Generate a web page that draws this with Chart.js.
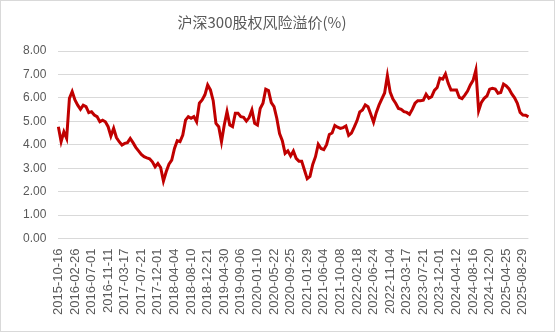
<!DOCTYPE html>
<html>
<head>
<meta charset="utf-8">
<script src="https://cdn.jsdelivr.net/npm/chart.js@4/dist/chart.umd.min.js"></script>
<style>
  body { margin: 0; background: #fff; }
  #box {
    position: relative;
    width: 553px;
    height: 330px;
    border: 1px solid #d9d9d9;
  }
  #title {
    position: absolute;
    left: 0;
    top: 11px;
    width: 522px;
    text-align: center;
    font-family: "Noto Sans CJK SC", sans-serif;
    font-size: 15px;
    line-height: 20px;
    color: #595959;
  }
  canvas { display: block; }
</style>
</head>
<body>
<div id="box">
  <div id="title">沪深300股权风险溢价(%)</div>
  <canvas id="erpChart" width="553" height="330"></canvas>
</div>
<script>
// x axis labels shown on the chart
const tickLabels = [
  "2015-10-16", "2016-02-26", "2016-07-01", "2016-11-11", "2017-03-17",
  "2017-07-21", "2017-12-01", "2018-04-04", "2018-08-10", "2018-12-21",
  "2019-04-30", "2019-09-06", "2020-01-10", "2020-05-22", "2020-09-25",
  "2021-01-29", "2021-06-04", "2021-10-08", "2022-02-18", "2022-06-24",
  "2022-11-04", "2023-03-17", "2023-07-21", "2023-12-01", "2024-04-12",
  "2024-08-16", "2024-12-20", "2025-04-25", "2025-08-29"
];

// points between two shown labels
const stepsPerTick = 6;

// equity risk premium (%)
const erpValues = [
  4.77, 4.13, 4.55, 4.27, 5.98, 6.27, 5.91, 5.69, 5.51, 5.69,
  5.63, 5.37, 5.41, 5.27, 5.20, 4.98, 5.05, 4.98, 4.77, 4.37,
  4.70, 4.31, 4.13, 3.99, 4.06, 4.09, 4.27, 4.09, 3.89, 3.74,
  3.59, 3.49, 3.44, 3.40, 3.27, 3.06, 3.20, 3.03, 2.45, 2.85,
  3.17, 3.34, 3.84, 4.17, 4.13, 4.41, 5.05, 5.20, 5.13, 5.20,
  4.98, 5.77, 5.91, 6.13, 6.55, 6.34, 5.88, 4.91, 4.77, 4.13,
  4.84, 5.41, 4.84, 4.77, 5.34, 5.34, 5.20, 5.17, 5.01, 5.16,
  5.48, 4.91, 4.84, 5.55, 5.77, 6.37, 6.31, 5.80, 5.63, 5.13,
  4.48, 4.17, 3.63, 3.74, 3.52, 3.73, 3.42, 3.30, 3.30, 2.92,
  2.55, 2.65, 3.16, 3.49, 4.02, 3.84, 3.79, 4.00, 4.44, 4.50,
  4.82, 4.75, 4.70, 4.73, 4.80, 4.40, 4.50, 4.75, 5.02, 5.40,
  5.48, 5.70, 5.62, 5.30, 4.96, 5.38, 5.70, 5.96, 6.21, 6.95,
  6.25, 5.95, 5.77, 5.55, 5.51, 5.41, 5.38, 5.30, 5.51, 5.77,
  5.88, 5.88, 5.90, 6.15, 5.98, 6.05, 6.32, 6.44, 6.84, 6.80,
  7.02, 6.62, 6.34, 6.34, 6.34, 6.02, 5.97, 6.12, 6.29, 6.55,
  6.75, 7.19, 5.45, 5.81, 5.98, 6.08, 6.37, 6.41, 6.38, 6.20,
  6.23, 6.59, 6.51, 6.38, 6.17, 6.00, 5.77, 5.38, 5.27, 5.26,
  5.19
];

const yMin = 0;
const yMax = 8;

function buildLabels() {
  const labels = [];
  for (let i = 0; i < erpValues.length; i++) {
    const t = i / stepsPerTick;
    labels.push(i % stepsPerTick === 0 && tickLabels[t] ? tickLabels[t] : "");
  }
  return labels;
}

function loadErpChart() {
  const canvas = document.getElementById("erpChart");
  if (!canvas) return;

  new Chart(canvas, {
    type: "line",
    data: {
      labels: buildLabels(),
      datasets: [{
        label: "沪深300股权风险溢价",
        data: erpValues,
        borderColor: "#c00000",
        borderWidth: 3,
        pointRadius: 0,
        fill: false,
        tension: 0
      }]
    },
    options: {
      responsive: false,
      animation: false,
      layout: {
        padding: { left: 10, right: 15, top: 50, bottom: 6 }
      },
      plugins: {
        legend: { display: false },
        title: { display: false },
        tooltip: { enabled: false }
      },
      scales: {
        x: {
          grid: { display: false, drawTicks: false },
          border: { display: false },
          ticks: {
            autoSkip: false,
            minRotation: 90,
            maxRotation: 90,
            padding: 10,
            color: "#595959",
            font: { family: "'Liberation Sans', Arial, sans-serif", size: 13 }
          }
        },
        y: {
          min: yMin,
          max: yMax,
          grid: { color: "#d9d9d9", drawTicks: false },
          border: { display: false },
          ticks: {
            stepSize: 1,
            padding: 12,
            color: "#595959",
            font: { family: "'Liberation Sans', Arial, sans-serif", size: 12 },
            callback: function (value) { return value.toFixed(2); }
          }
        }
      }
    }
  });
}

loadErpChart();
</script>
</body>
</html>
